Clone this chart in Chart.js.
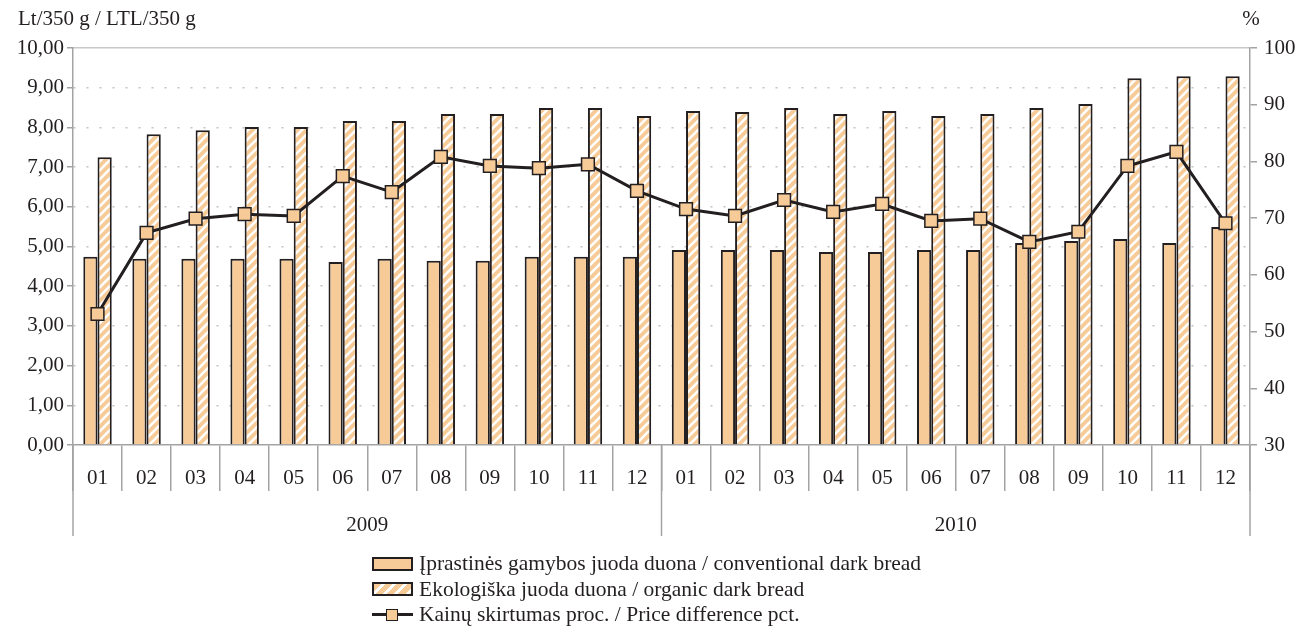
<!DOCTYPE html>
<html>
<head>
<meta charset="utf-8">
<script src="https://cdn.jsdelivr.net/npm/chart.js@4.4.1/dist/chart.umd.min.js"></script>
<style>
  html, body { margin: 0; padding: 0; background: #fff; }
  #wrap { position: relative; width: 1298px; height: 629px; }
  #legend {
    position: absolute; left: 372px; top: 551px;
    font-family: 'Liberation Serif', 'Times New Roman', serif;
    font-size: 21.5px; color: #231f20;
  }
  .row { display: flex; align-items: center; height: 25.5px; }
  .sw { width: 41px; height: 14px; margin-right: 6px; box-sizing: border-box; position: relative; }
</style>
</head>
<body>
<div id="wrap">
  <canvas id="c" width="1298" height="629"></canvas>
  <div id="legend"></div>
</div>
<script>
const months = ['01','02','03','04','05','06','07','08','09','10','11','12',
                '01','02','03','04','05','06','07','08','09','10','11','12'];
const years = ['2009', '2010'];

const conventional = [4.74,4.69,4.69,4.69,4.69,4.61,4.69,4.64,4.64,4.74,4.74,4.74,
                      4.91,4.91,4.91,4.86,4.86,4.91,4.91,5.09,5.14,5.19,5.09,5.49];
const organic = [7.25,7.83,7.93,8.01,8.01,8.16,8.16,8.34,8.34,8.49,8.49,8.29,
                 8.41,8.39,8.49,8.34,8.41,8.29,8.34,8.49,8.59,9.24,9.29,9.29];
const priceDiff = [53.1,67.4,69.9,70.7,70.4,77.4,74.6,80.8,79.2,78.8,79.5,74.8,
                   71.6,70.4,73.2,71.1,72.5,69.5,69.9,65.8,67.6,79.2,81.7,69.1];

const seriesNames = [
  'Įprastinės gamybos juoda duona / conventional dark bread',
  'Ekologiška juoda duona / organic dark bread',
  'Kainų skirtumas proc. / Price difference pct.'
];
const leftTitle = 'Lt/350 g / LTL/350 g';
const rightTitle = '%';

const orange = '#f7cb98';
const dark = '#231f20';
const axisGray = '#a3a3a3';
const font = { family: "'Liberation Serif', 'Times New Roman', serif", size: 21 };

function makeHatch() {
  const c = document.createElement('canvas');
  c.width = 9; c.height = 9;
  const g = c.getContext('2d');
  g.fillStyle = orange;
  g.fillRect(0, 0, 9, 9);
  g.strokeStyle = '#fff';
  g.lineWidth = 2.6;
  g.beginPath();
  g.moveTo(-1, 10); g.lineTo(10, -1);
  g.moveTo(-1, 1); g.lineTo(1, -1);
  g.moveTo(8, 10); g.lineTo(10, 8);
  g.stroke();
  return g.createPattern(c, 'repeat');
}
const hatch = makeHatch();

// titles above the axes + year row under the month labels
const extras = {
  id: 'extras',
  afterDraw(chart) {
    const { ctx } = chart;
    const x = chart.scales.x, y1 = chart.scales.y1;
    ctx.save();
    ctx.font = font.size + 'px ' + font.family;
    ctx.fillStyle = dark;
    ctx.textBaseline = 'middle';
    ctx.textAlign = 'left';
    ctx.fillText(leftTitle, 18, 19);
    ctx.textAlign = 'center';
    ctx.fillText(rightTitle, y1.left + 1, 19);

    const per = months.length / years.length;
    const edge = i => {
      if (i === 0) return x.left;
      if (i === months.length) return x.right;
      return (x.getPixelForValue(i - 1) + x.getPixelForValue(i)) / 2;
    };
    ctx.strokeStyle = axisGray;
    ctx.lineWidth = 1.5;
    for (let k = 0; k <= years.length; k++) {
      const px = edge(k * per);
      ctx.beginPath();
      ctx.moveTo(px, x.top);
      ctx.lineTo(px, x.bottom);
      ctx.stroke();
    }
    for (let k = 0; k < years.length; k++) {
      const cx = (edge(k * per) + edge((k + 1) * per)) / 2;
      ctx.fillText(years[k], cx, x.bottom - 11);
    }
    ctx.restore();
  }
};

const chart = new Chart(document.getElementById('c'), {
  data: {
    labels: months,
    datasets: [
      {
        type: 'bar', label: seriesNames[0], data: conventional, yAxisID: 'y', order: 1,
        backgroundColor: orange, borderColor: dark, borderWidth: 2,
        categoryPercentage: 0.58, barPercentage: 1
      },
      {
        type: 'bar', label: seriesNames[1], data: organic, yAxisID: 'y', order: 1,
        backgroundColor: hatch, borderColor: dark, borderWidth: 2,
        categoryPercentage: 0.58, barPercentage: 1
      },
      {
        type: 'line', label: seriesNames[2], data: priceDiff, yAxisID: 'y1', order: 0,
        borderColor: dark, borderWidth: 3, tension: 0,
        pointStyle: 'rect', pointRadius: 9, pointBackgroundColor: orange,
        pointBorderColor: dark, pointBorderWidth: 1.5
      }
    ]
  },
  options: {
    responsive: false,
    animation: false,
    layout: { padding: { top: 48, left: 0, right: 0, bottom: 93 } },
    plugins: { legend: { display: false }, tooltip: { enabled: false } },
    scales: {
      x: {
        grid: { offset: true, drawOnChartArea: false, tickLength: 46, color: axisGray, lineWidth: 1.5 },
        border: { color: axisGray, width: 1.5 },
        ticks: { font, color: dark, padding: -25, maxRotation: 0, autoSkip: false },
        afterFit: s => { s.height = 91; }
      },
      y: {
        position: 'left', min: 0, max: 10,
        ticks: { stepSize: 1, font, color: dark, padding: 3,
                 callback: v => v.toFixed(2).replace('.', ',') },
        grid: {
          color: c => (c.tick.value > 0 && c.tick.value < 10) ? '#c2c2c2' : 'transparent',
          lineWidth: 1.5, tickColor: axisGray, tickWidth: 1.5, tickLength: 6
        },
        border: { color: axisGray, width: 1.5, dash: [2, 11] },
        afterFit: s => { s.width = 73; }
      },
      y1: {
        position: 'right', min: 30, max: 100,
        ticks: { stepSize: 10, font, color: dark, padding: 7 },
        grid: {
          color: c => c.tick.value === 100 ? '#c8c8c8' : 'transparent',
          lineWidth: 1.5, tickColor: axisGray, tickWidth: 1.5, tickLength: 7
        },
        border: { color: axisGray, width: 1.5 },
        afterFit: s => { s.width = 48; }
      }
    }
  },
  plugins: [extras]
});

// legend as one item per row, like the original
const legend = document.getElementById('legend');
const swatches = [
  '<div class="sw" style="background:' + orange + ';border:2px solid ' + dark + '"></div>',
  '<div class="sw" style="border:2px solid ' + dark + ';background:repeating-linear-gradient(135deg,' + orange + ' 0 5px,#fff 5px 8px)"></div>',
  '<div class="sw"><div style="position:absolute;left:0;right:0;top:5.5px;height:3px;background:' + dark + '"></div>' +
  '<div style="position:absolute;left:14px;top:1px;width:12px;height:12px;box-sizing:border-box;background:' + orange + ';border:1.5px solid ' + dark + '"></div></div>'
];
chart.data.datasets.forEach((ds, i) => {
  const row = document.createElement('div');
  row.className = 'row';
  row.innerHTML = swatches[i] + '<span>' + ds.label + '</span>';
  legend.appendChild(row);
});
</script>
</body>
</html>
